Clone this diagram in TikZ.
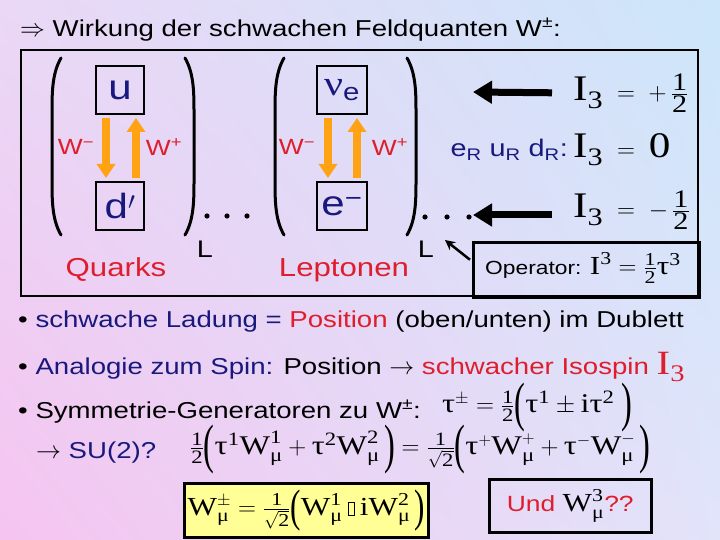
\documentclass[tikz,border=0pt]{standalone}
\usepackage{amsmath}
\usepackage{graphicx}
\usepackage{fontspec}
\setmainfont{Liberation Sans}[FakeStretch=1.2]
\newfontfamily\tms{Liberation Serif}[FakeStretch=1.2]
\usetikzlibrary{arrows,arrows.meta,positioning,shadings}
\definecolor{slidered}{RGB}{222,30,45}
\definecolor{slidenavy}{RGB}{25,25,125}
\definecolor{wirkorange}{RGB}{255,162,20}
\definecolor{memoyellow}{RGB}{255,255,150}
\definecolor{bgtl}{RGB}{234,216,246}
\definecolor{bgtr}{RGB}{204,230,250}
\definecolor{bgbl}{RGB}{245,196,240}
\definecolor{bgbr}{RGB}{226,228,250}
\newcommand\gr[1]{\text{\tms #1}}
\newcommand\rmf[1]{\text{\tms #1}}
\newcommand\lp[2][-0.22em]{\mathopen{\raisebox{#1}{\scalebox{1}[#2]{\tms (}}}}
\newcommand\rp[2][-0.22em]{\mathclose{\raisebox{#1}{\scalebox{1}[#2]{\tms )}}}}
\newcommand\nobox{\mathbin{\setlength\fboxsep{0pt}\setlength\fboxrule{0.6pt}\fbox{\rule{0pt}{13pt}\hspace{5pt}}}}
\tikzset{particle/.style={draw,line width=2pt,minimum width=48pt,minimum height=48pt,inner sep=0pt,text=slidenavy,font=\fontsize{35}{35}\selectfont},
         wlabel/.style={text=slidered,inner sep=0pt,font=\fontsize{22}{22}\selectfont},
         wboson/.style={wirkorange,line width=8pt,shorten <=3pt,shorten >=3pt,-{Triangle[width=18pt,length=14pt]}},
         isoarrow/.style={line width=7pt,-{Triangle[width=22pt,length=19pt]}},
         paren/.style={line width=3pt,line cap=round},
         textline/.style={anchor=west,inner sep=0pt,font=\fontsize{23}{23}\selectfont},
         formula/.style={anchor=west,inner sep=0pt,font=\fontsize{27}{27}\selectfont},
         isoval/.style={anchor=west,inner sep=0pt,font=\fontsize{36}{36}\selectfont},
         family/.style={text=slidered,inner sep=0pt,font=\fontsize{26}{26}\selectfont},
         chir/.style={inner sep=0pt,font=\fontsize{24}{24}\selectfont}
}
\begin{document}
\begin{tikzpicture}[x=1pt,y=-1pt,>=stealth']
\shade[upper left=bgtl,upper right=bgtr,lower left=bgbl,lower right=bgbr] (0,0) rectangle (720,540);
\useasboundingbox (0,0) rectangle (720,540);

% title
\node[textline] (title) at (20,30) {$\Rightarrow$ Wirkung der schwachen Feldquanten W\textsuperscript{±}:};

% doublet panel
\draw[line width=2.5pt] (21,50) rectangle (698,296);
\foreach \l/\r in {52/194,275/416}{
  \draw[paren] (\l+9,58) .. controls (\l+1,72) and (\l,88) .. (\l,110) -- (\l,183) .. controls (\l,205) and (\l+1,221) .. (\l+9,235);
  \draw[paren] (\r-9,58) .. controls (\r-1,72) and (\r,88) .. (\r,110) -- (\r,183) .. controls (\r,205) and (\r-1,221) .. (\r-9,235);
}
\node[particle] (u) at (120,90) {u};
\node[particle, below=66pt of u] (d) {d$'$};
\node[particle, minimum width=50pt] (nu) at (342,90) {\gr{ν}\textsubscript{e}};
\node[particle, minimum width=50pt, below=66pt of nu] (e) {e\textsuperscript{−}};

\draw[wboson] ([xshift=-14pt]u.south) -- ([xshift=-14pt]d.north);
\draw[wboson] ([xshift=16pt]d.north) -- ([xshift=16pt]u.south);
\draw[wboson] ([xshift=-14pt]nu.south) -- ([xshift=-14pt]e.north);
\draw[wboson] ([xshift=15pt]e.north) -- ([xshift=15pt]nu.south);

\node[wlabel] (wmq) at (76,147) {W\textsuperscript{−}};
\node[wlabel] (wpq) at (164,147) {W\textsuperscript{+}};
\node[wlabel] (wml) at (297,147) {W\textsuperscript{−}};
\node[wlabel] (wpl) at (390,147) {W\textsuperscript{+}};

\node[inner sep=0pt, font=\fontsize{24}{24}\selectfont] (lq) at (205,249) {L};
\node[inner sep=0pt, font=\fontsize{24}{24}\selectfont] (ll) at (426,249) {L};
\foreach \x in {207,227,247} \fill (\x,216) circle (2.6pt);
\foreach \x in {425,447,469} \fill (\x,217) circle (2.6pt);

\node[family] (quarks) at (116,270) {Quarks};
\node[family] (leptons) at (344,270) {Leptonen};

% weak isospin values
\node[isoval] (i3up) at (573,93) {$\rmf{I}_{\rmf{3}} \;=\; +\,\tfrac{\rmf{1}}{\rmf{2}}$};
\node[isoval] (i3zero) at (573,150) {$\rmf{I}_{\rmf{3}} \;=\; \rmf{0}$};
\node[chir, anchor=east, text=slidenavy] (right) at (568,150) {e\textsubscript{R} u\textsubscript{R} d\textsubscript{R}:};
\node[isoval] (i3dn) at (573,210) {$\rmf{I}_{\rmf{3}} \;=\; -\,\tfrac{\rmf{1}}{\rmf{2}}$};
\coordinate (tipup) at (473,92);
\coordinate (tipdn) at (473,215);
\draw[isoarrow, shorten <=21pt] (i3up.west) -- (tipup);
\draw[isoarrow, shorten <=21pt] (i3dn.west |- tipdn) -- (tipdn);

% operator
\node[draw, line width=2.5pt, anchor=north west, minimum width=226pt, minimum height=55pt] (opbox) at (472,241) {};
\node[inner sep=0pt, font=\fontsize{19}{19}\selectfont] (op) at (583,268) {Operator: {\fontsize{26}{26}\selectfont$\rmf{I}^{\rmf{3}} = \tfrac{\rmf{1}}{\rmf{2}}\gr{τ}^{\rmf{3}}$}};
\coordinate (ltip) at (445,240);
\draw[line width=2.5pt, -{Stealth[length=10pt,width=10pt]}] ([xshift=-2pt,yshift=10pt]opbox.west) -- (ltip);

% bullets
\node[textline] (b1) at (18,322) {\textbullet\ \textcolor{slidenavy}{schwache Ladung =} \textcolor{slidered}{Position} (oben/unten) im Dublett};
\node[textline] (b2) at (18,367) {\textbullet\ \textcolor{slidenavy}{Analogie zum Spin:} Position $\rightarrow$ \textcolor{slidered}{schwacher Isospin {\fontsize{34}{34}\selectfont$\rmf{I}_{\rmf{3}}$}}};
\node[textline] (b3) at (18,412) {\textbullet\ Symmetrie-Generatoren zu W\textsuperscript{±}:};
\node[formula] (taupm) at (442,408) {$\gr{τ}^{\pm} = \tfrac{\rmf{1}}{\rmf{2}}\lp[-0.3em]{2}\gr{τ}^{\rmf{1}} \pm \rmf{i}\gr{τ}^{\rmf{2}}\;\rp[-0.3em]{2}$};
\node[textline] (su) at (36,453) {$\rightarrow$ \textcolor{slidenavy}{SU(2)?}};
\node[formula] (mix) at (190,450) {$\tfrac{\rmf{1}}{\rmf{2}}\lp[-0.3em]{2}\gr{τ}^{\rmf{1}}\rmf{W}^{\rmf{1}}_{\gr{μ}} + \gr{τ}^{\rmf{2}}\rmf{W}^{\rmf{2}}_{\gr{μ}}\,\rp[-0.3em]{2} = \tfrac{\rmf{1}}{\sqrt{\rmf{2}}}\lp[-0.3em]{2}\gr{τ}^{+}\rmf{W}^{+}_{\gr{μ}} + \gr{τ}^{-}\rmf{W}^{-}_{\gr{μ}}\,\rp[-0.3em]{2}$};

% results
\node[draw, line width=2.5pt, fill=memoyellow, anchor=north west, minimum width=244pt, minimum height=54pt] (wbox) at (183,482) {};
\node[inner sep=0pt, font=\fontsize{26}{26}\selectfont] (wdef) at (wbox.center) {$\rmf{W}^{\pm}_{\gr{μ}} = \tfrac{\rmf{1}}{\sqrt{\rmf{2}}}\lp{1.75}\rmf{W}^{\rmf{1}}_{\gr{μ}} \nobox \rmf{i}\rmf{W}^{\rmf{2}}_{\gr{μ}}\,\rp{1.75}$};
\node[draw, line width=2.5pt, anchor=north west, minimum width=162pt, minimum height=53pt] (undbox) at (488,478) {};
\node[inner sep=0pt, font=\fontsize{22}{22}\selectfont] (und) at (undbox.center) {\textcolor{slidered}{Und} {\fontsize{26}{26}\selectfont$\rmf{W}^{\rmf{3}}_{\gr{μ}}$}\textcolor{slidered}{??}};
\end{tikzpicture}
\end{document}
